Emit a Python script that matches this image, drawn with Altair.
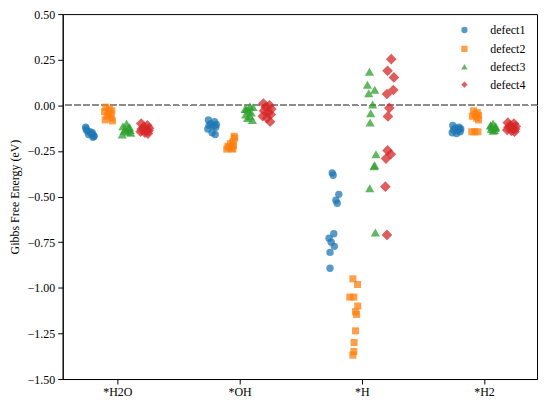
import altair as alt
import pandas as pd

steps = ["*H2O", "*OH", "*H", "*H2"]
defects = ["defect1", "defect2", "defect3", "defect4"]
colors = ["#1f77b4", "#ff7f0e", "#2ca02c", "#d62728"]
shapes = ["circle", "square", "triangle-up", "diamond"]
marker_sizes = [55, 50, 85, 115]
dodge = [-0.225, -0.075, 0.075, 0.225]
y_ticks = [-1.5, -1.25, -1.0, -0.75, -0.5, -0.25, 0.0, 0.25, 0.5]

# Gibbs free energy values (eV), one list per defect, per step
h2o_vals = [
    [-0.13, -0.15, -0.16, -0.17, -0.14, -0.155, -0.165, -0.12, -0.145, -0.175],
    [-0.01, -0.02, -0.03, -0.035, -0.045, -0.05, -0.06, -0.07, -0.08, -0.085],
    [-0.10, -0.115, -0.12, -0.13, -0.135, -0.14, -0.145, -0.15, -0.16, -0.125],
    [-0.10, -0.11, -0.12, -0.125, -0.13, -0.135, -0.14, -0.145, -0.15, -0.155],
]
oh_vals = [
    [-0.08, -0.09, -0.10, -0.105, -0.11, -0.115, -0.12, -0.13, -0.15, -0.16],
    [-0.17, -0.18, -0.20, -0.21, -0.22, -0.225, -0.23, -0.235, -0.24, -0.24],
    [-0.005, -0.01, -0.02, -0.03, -0.04, -0.05, -0.06, -0.07, -0.08, -0.02],
    [0.01, 0.0, -0.01, -0.02, -0.03, -0.04, -0.05, -0.06, -0.07, -0.09],
]
h_vals = [
    [-0.37, -0.383, -0.488, -0.52, -0.537, -0.704, -0.728, -0.75, -0.773, -0.806, -0.893],
    [-0.951, -0.982, -1.051, -1.051, -1.10, -1.131, -1.146, -1.236, -1.30, -1.349, -1.369],
    [0.184, 0.113, 0.085, 0.066, 0.004, -0.043, -0.094, -0.268, -0.328, -0.334, -0.454, -0.697],
    [0.253, 0.189, 0.153, 0.084, 0.062, -0.014, -0.061, -0.247, -0.268, -0.292, -0.446, -0.71],
]
h2_vals = [
    [-0.11, -0.12, -0.125, -0.13, -0.135, -0.14, -0.145, -0.15, -0.155, -0.13],
    [-0.03, -0.04, -0.05, -0.055, -0.06, -0.07, -0.08, -0.145, -0.145, -0.145],
    [-0.10, -0.11, -0.115, -0.12, -0.125, -0.13, -0.135, -0.14, -0.12, -0.11],
    [-0.095, -0.10, -0.11, -0.115, -0.12, -0.125, -0.13, -0.135, -0.14, -0.145],
]

# strip-plot jitter, one list per defect, per step
jit10 = [-0.03, 0.02, -0.01, 0.035, -0.025, 0.01, 0.03, -0.035, 0.0, 0.025]
h2o_jit = [jit10, [-0.02, 0.01, 0.03, -0.03, 0.0, 0.02, -0.01, 0.025, -0.025, 0.035],
           [0.0, -0.03, 0.025, -0.01, 0.03, -0.02, 0.01, 0.035, -0.035, 0.015], jit10]
oh_jit = [jit10, [0.03, 0.035, 0.02, 0.0, 0.025, -0.02, -0.01, 0.01, -0.03, 0.02],
          [0.01, 0.035, -0.02, 0.0, 0.02, -0.025, 0.01, -0.01, 0.03, -0.03], jit10]
h_jit = [
    [-0.017, -0.009, 0.037, 0.013, 0.024, -0.004, -0.043, -0.025, 0.0, -0.035, -0.035],
    [0.002, 0.04, -0.023, 0.01, 0.042, 0.024, 0.032, 0.024, 0.012, 0.01, 0.002],
    [-0.012, -0.029, 0.031, -0.018, 0.014, -0.002, -0.007, 0.041, 0.031, 0.025, -0.01, 0.036],
    [0.016, -0.014, 0.038, 0.033, -0.019, 0.0, -0.011, -0.014, 0.013, -0.027, -0.032, -0.019],
]
h2_jit = [jit10, [-0.01, 0.02, 0.0, 0.03, -0.02, 0.015, 0.03, -0.025, 0.0, 0.025],
          [0.0, -0.02, 0.02, -0.01, 0.015, -0.015, 0.01, 0.0, 0.02, -0.02], jit10]

all_vals = [h2o_vals, oh_vals, h_vals, h2_vals]
all_jit = [h2o_jit, oh_jit, h_jit, h2_jit]

rows = []
for si, (sv, sj) in enumerate(zip(all_vals, all_jit)):
    for di in range(4):
        for v, j in zip(sv[di], sj[di]):
            rows.append({"step": si, "defect": defects[di], "energy": v,
                         "pos": si + dodge[di] + j})
df = pd.DataFrame(rows)

label_expr = "[" + ",".join("'%s'" % s for s in steps) + "][datum.value]"

FONT = "'Liberation Serif', 'Times New Roman', 'DejaVu Serif', serif"

x_enc = alt.X("pos:Q", scale=alt.Scale(domain=[-0.4475, 3.434], nice=False, zero=False),
              axis=alt.Axis(values=[0, 1, 2, 3], labelExpr=label_expr, title=None,
                            grid=False, tickSize=5, labelPadding=3))
y_enc = alt.Y("energy:Q", scale=alt.Scale(domain=[-1.5, 0.5], nice=False),
              axis=alt.Axis(values=y_ticks, format=".2f", title="Gibbs Free Energy (eV)",
                            grid=False, tickSize=5, labelPadding=3, titlePadding=6))
c_enc = alt.Color("defect:N", scale=alt.Scale(domain=defects, range=colors),
                  legend=alt.Legend(title=None, orient="none", legendX=398, legendY=10,
                                    symbolSize=40))
s_enc = alt.Shape("defect:N", scale=alt.Scale(domain=defects, range=shapes))

zero_line = alt.Chart(df).mark_rule(color="#8c8c8c", strokeDash=[6, 3], strokeWidth=1.2).encode(
    y=alt.datum(0)
)

layers = [zero_line]
for di, d in enumerate(defects):
    layers.append(
        alt.Chart(df[df["defect"] == d]).mark_point(
            filled=True, opacity=0.75, size=marker_sizes[di]
        ).encode(x=x_enc, y=y_enc, color=c_enc, shape=s_enc)
    )

chart = alt.layer(*layers).properties(
    width=477, height=367,
    autosize=alt.AutoSizeParams(type="none"),
    padding={"left": 55, "top": 5, "right": 5, "bottom": 26},
).configure_view(stroke="black", strokeWidth=1).configure_axis(
    labelFont=FONT, titleFont=FONT, labelFontSize=12, titleFontSize=12,
    titleFontWeight="normal", labelColor="black", titleColor="black",
    domainColor="black", tickColor="black", domainWidth=1, tickWidth=1,
).configure_legend(
    labelFont=FONT, labelFontSize=12, labelColor="black", symbolSize=40,
    symbolOpacity=0.75, rowPadding=5, labelOffset=20, padding=0,
)

chart.save("out.html", embed_options={"renderer": "svg", "actions": False})
